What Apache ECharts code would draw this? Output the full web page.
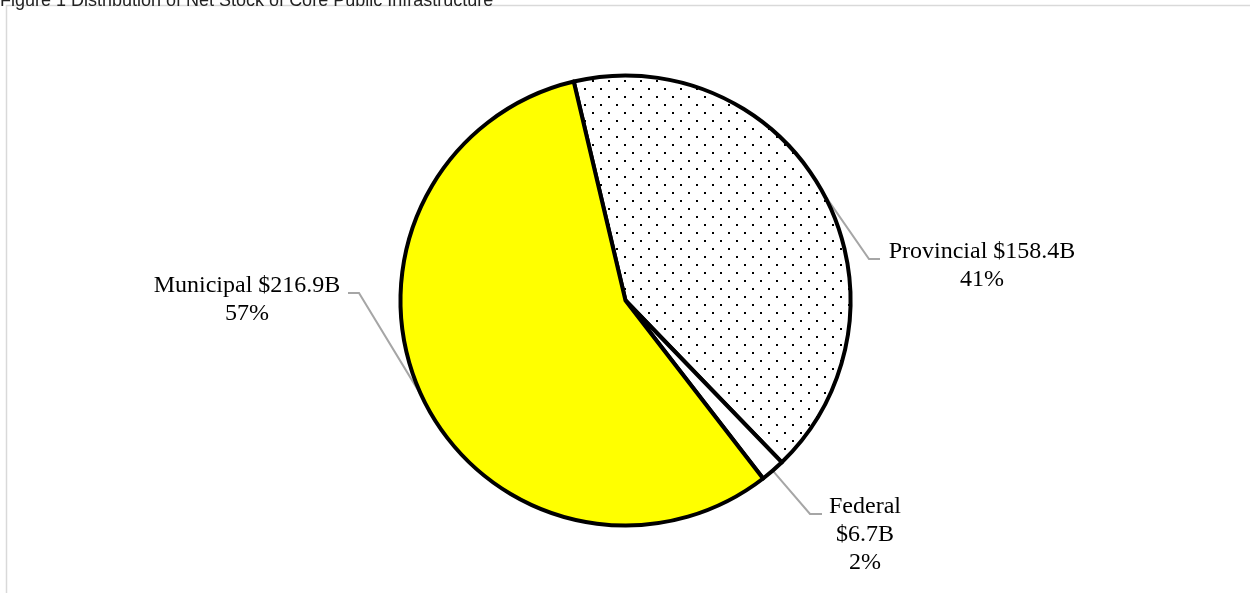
<!DOCTYPE html>
<html><head><meta charset="utf-8">
<script src="https://cdn.jsdelivr.net/npm/echarts@6/dist/echarts.min.js"></script>
<style>html,body{margin:0;padding:0;background:#fff}#c{width:1250px;height:593px}</style>
</head><body><div id="c"></div>
<script>
const TITLE = 'Figure 1 Distribution of Net Stock of Core Public Infrastructure';
const categories = ['Provincial', 'Federal', 'Municipal'];
const values = [158.4, 6.7, 216.9];          // $ billions
const currency = '$';
const unit = 'B';

function dotPattern() {
  const c = document.createElement('canvas');
  c.width = 16; c.height = 16;
  const g = c.getContext('2d');
  g.fillStyle = '#ffffff'; g.fillRect(0, 0, 16, 16);
  g.fillStyle = '#000000';
  g.fillRect(0, 0, 2, 2);
  g.fillRect(8, 8, 2, 2);
  return c;
}
const fills = [{ image: dotPattern(), repeat: 'repeat' }, '#ffffff', '#ffff00'];

// label placement (layout only)
const labelPlacement = [
  { x: 982, y: 238, bend: [869, 259], end: [880, 259], wrap: false },
  { x: 865, y: 493, bend: [810, 514], end: [822, 514], wrap: true },
  { x: 247, y: 272, bend: [359, 293], end: [348, 293], wrap: false }
];

const chart = echarts.init(document.getElementById('c'), null, { renderer: 'canvas' });
chart.setOption({
  animation: false,
  backgroundColor: '#ffffff',
  title: {
    text: TITLE, left: 0, top: -8, padding: 0,
    textStyle: { fontFamily: 'Liberation Sans', fontSize: 18, fontWeight: 'normal', color: '#222' }
  },
  graphic: [{
    type: 'rect', silent: true, z: -1,
    shape: { x: 6.5, y: 5.5, width: 1300, height: 700 },
    style: { fill: 'none', stroke: '#d9d9d9', lineWidth: 1.5 }
  }],
  series: [{
    type: 'pie',
    center: [625.5, 300.5],
    radius: 225,
    startAngle: 103.3,
    clockwise: true,
    avoidLabelOverlap: false,
    silent: true,
    emphasis: { disabled: true },
    data: categories.map((n, i) => ({ name: n, value: values[i], itemStyle: { color: fills[i] } })),
    itemStyle: { borderColor: '#000', borderWidth: 4 },
    label: {
      show: true,
      position: 'outside',
      fontFamily: 'Liberation Serif',
      fontSize: 24,
      lineHeight: 28,
      color: '#000',
      align: 'center',
      formatter: p => {
        const sep = labelPlacement[p.dataIndex].wrap ? '\n' : ' ';
        return p.name + sep + currency + values[p.dataIndex].toFixed(1) + unit + '\n' + Math.round(p.percent) + '%';
      }
    },
    labelLine: { show: true, smooth: false, lineStyle: { color: '#a6a6a6', width: 2 } },
    labelLayout: function (p) {
      const L = labelPlacement[p.dataIndex];
      const pts = p.labelLinePoints;
      return {
        x: L.x, y: L.y, align: 'center', verticalAlign: 'top',
        labelLinePoints: [pts[0], L.bend, L.end]
      };
    }
  }]
});
</script>
</body></html>
